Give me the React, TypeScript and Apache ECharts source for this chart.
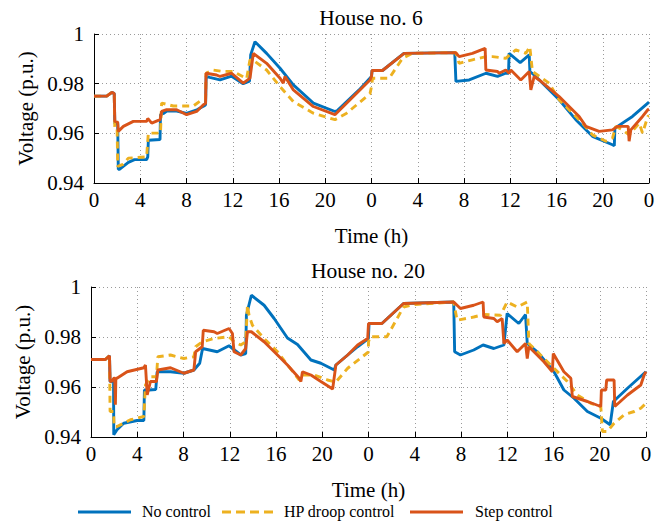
import React, { useEffect, useRef } from "react";
import * as echarts from "echarts";

const FONT = "Liberation Serif";
const FS = 21;
const BLUE = "#0072BD";
const YELLOW = "#EDB120";
const RED = "#D95319";

const seriesNames = ["No control", "HP droop control", "Step control"];
const panelTitles = ["House no. 6", "House no. 20"];

const topNoControl = [
  [0, 0.975], [1.1, 0.975], [1.55, 0.9765], [1.75, 0.976], [1.8, 0.964], [2.05, 0.964], [2.1, 0.9455], [2.2, 0.9455],
  [2.97, 0.9483], [3.5, 0.9494], [4.55, 0.9494], [4.65, 0.9505], [4.7, 0.9572], [5.71, 0.9575], [5.75, 0.9675],
  [6.0, 0.968], [6.3, 0.969], [7.15, 0.969], [8.0, 0.968], [8.9, 0.9695], [9.5, 0.971], [9.65, 0.9715], [9.7, 0.9829],
  [10.0, 0.9825], [10.9, 0.9815], [11.9, 0.983], [12.9, 0.98], [13.45, 0.981], [13.55, 0.9916], [13.92, 0.9969],
  [14.93, 0.9922], [16.09, 0.9862], [17.24, 0.9795], [18.97, 0.9722], [20.84, 0.9688], [21.0, 0.969], [22.93, 0.9775],
  [24.0, 0.9829], [24.05, 0.9853], [24.95, 0.9853], [26.8, 0.9922], [31.2, 0.9925], [31.3, 0.9809], [32.45, 0.9815],
  [33.9, 0.9842], [34.9, 0.9829], [35.6, 0.9842], [35.85, 0.9842], [35.9, 0.9922], [36.86, 0.9885], [37.64, 0.9916],
  [37.7, 0.9849], [38.21, 0.9829], [40.23, 0.9735], [41.67, 0.9655], [43.11, 0.9588], [44.84, 0.9554], [45.0, 0.955],
  [45.05, 0.9621], [46.57, 0.9668], [47.9, 0.9722], [48, 0.9725],
];
const topHpDroop = [
  [0, 0.975], [1.1, 0.975], [1.55, 0.9765], [1.75, 0.976], [1.8, 0.962], [2.0, 0.962], [2.05, 0.9467], [2.5, 0.9475],
  [2.97, 0.95], [4.55, 0.9505], [4.7, 0.9601], [5.75, 0.9601], [5.85, 0.9722], [6.86, 0.971], [8.59, 0.971],
  [9.17, 0.973], [9.65, 0.9735], [9.69, 0.9842], [10.3, 0.9855], [11.0, 0.985], [12.05, 0.9849], [13.2, 0.982],
  [13.49, 0.9896], [13.92, 0.9889], [14.93, 0.9855], [16.09, 0.9788], [17.24, 0.9728], [18.97, 0.9681],
  [20.84, 0.9655], [21.85, 0.9681], [23.87, 0.976], [24.0, 0.9788], [24.09, 0.9822], [25.53, 0.9822],
  [26.68, 0.9902], [27.5, 0.9922], [31.29, 0.9925], [31.58, 0.9882], [32.73, 0.9896], [33.89, 0.9909],
  [34.46, 0.9909], [35.61, 0.9902], [36.48, 0.9936], [37.35, 0.9922], [37.69, 0.9949], [37.92, 0.9849],
  [39.36, 0.9802], [40.23, 0.9735], [41.09, 0.9695], [42.25, 0.9641], [43.11, 0.9594], [44.27, 0.9568],
  [44.84, 0.9581], [45.13, 0.9628], [45.71, 0.9614], [46.28, 0.9594], [47.15, 0.9641], [47.44, 0.9601],
  [47.9, 0.9668], [48, 0.967],
];
const topStep = [
  [0, 0.975], [1.1, 0.975], [1.55, 0.9765], [1.75, 0.976], [1.8, 0.9648], [2.05, 0.9645], [2.1, 0.9608],
  [2.54, 0.9628], [3.4, 0.9648], [4.55, 0.9648], [4.65, 0.966], [4.99, 0.9641], [5.71, 0.9655], [5.85, 0.9688],
  [6.28, 0.9695], [7.15, 0.9695], [8.01, 0.9675], [8.88, 0.9688], [9.46, 0.9715], [9.65, 0.972], [9.69, 0.9842],
  [10.6, 0.9835], [10.9, 0.9829], [11.9, 0.9842], [12.91, 0.9802], [13.49, 0.9822], [13.78, 0.9922],
  [14.93, 0.9882], [16.09, 0.9822], [16.37, 0.9802], [16.52, 0.9829], [17.24, 0.9775], [18.97, 0.9708],
  [20.84, 0.9675], [23.87, 0.9815], [24, 0.9829], [24.05, 0.9853], [24.95, 0.9853], [26.82, 0.9922],
  [31.29, 0.9925], [31.58, 0.9909], [32.73, 0.9922], [33.83, 0.9942], [33.89, 0.9855], [34.9, 0.9849],
  [35.04, 0.9842], [35.61, 0.9855], [35.9, 0.9842], [36.05, 0.9855], [36.91, 0.9815], [37.64, 0.9849],
  [37.78, 0.9775], [38.07, 0.9829], [38.5, 0.9815], [40.23, 0.9748], [41.96, 0.9668], [42.54, 0.9628],
  [43.69, 0.9608], [44.84, 0.9614], [45.27, 0.9628], [46.2, 0.9628], [46.28, 0.9568], [46.43, 0.9614],
  [47.44, 0.9668], [47.9, 0.9695], [48, 0.9698],
];

const bottomNoControl = [
  [0, 0.971], [1.24, 0.971], [1.6, 0.9725], [1.65, 0.9622], [1.95, 0.962], [1.97, 0.9409], [2.25, 0.9429],
  [2.83, 0.9455], [3.99, 0.9466], [4.57, 0.9466], [4.62, 0.9588], [5.0, 0.9588], [5.6, 0.959], [5.72, 0.9661],
  [6.88, 0.9661], [8.03, 0.9655], [8.9, 0.9668], [9.4, 0.9695], [9.65, 0.9754], [10.92, 0.9741], [11.94, 0.9765],
  [12.95, 0.9728], [13.38, 0.9734], [13.44, 0.9887], [13.87, 0.9967], [14.97, 0.9927], [15.84, 0.9874],
  [16.99, 0.9796], [17.86, 0.977], [19.02, 0.9708], [19.88, 0.9695], [21.04, 0.9668], [21.18, 0.9688],
  [22.2, 0.9728], [23.06, 0.9761], [23.99, 0.9794], [24.05, 0.9854], [25.16, 0.9854], [27.03, 0.9934],
  [31.37, 0.994], [31.45, 0.9741], [31.95, 0.9728], [33.1, 0.9748], [33.91, 0.9768], [34.84, 0.9754],
  [35.71, 0.9768], [35.99, 0.9894], [37.0, 0.9854], [37.58, 0.989], [37.73, 0.9774], [38.6, 0.9741],
  [40.04, 0.9661], [40.9, 0.9588], [41.77, 0.9555], [42.93, 0.9502], [44.09, 0.9475], [44.9, 0.9449],
  [45.18, 0.9542], [46.4, 0.9595], [47.99, 0.9661], [48, 0.9661],
];
const bottomHpDroop = [
  [0, 0.971], [1.24, 0.971], [1.6, 0.9725], [1.65, 0.9502], [1.95, 0.9502], [2.0, 0.9442], [2.25, 0.9442],
  [3.41, 0.9469], [4.57, 0.9482], [4.71, 0.9608], [5.14, 0.9641], [5.66, 0.9641], [5.78, 0.9721], [6.88, 0.9728],
  [8.03, 0.9714], [8.9, 0.9721], [9.05, 0.9761], [9.62, 0.9781], [10.64, 0.9794], [11.94, 0.9801], [12.37, 0.9781],
  [12.95, 0.9768], [13.38, 0.9781], [13.53, 0.9927], [13.67, 0.9887], [13.96, 0.9847], [14.97, 0.9794],
  [16.13, 0.9741], [16.99, 0.9688], [18.01, 0.9628], [18.29, 0.9648], [19.31, 0.9648], [20.46, 0.9628],
  [21.18, 0.962], [22.2, 0.9675], [23.99, 0.974], [24.0, 0.9781], [24.14, 0.9801], [25.59, 0.9801],
  [27.03, 0.992], [28, 0.993], [31.37, 0.994], [31.66, 0.9867], [33.1, 0.988], [33.97, 0.989], [35.42, 0.9887],
  [35.99, 0.994], [36.86, 0.992], [37.73, 0.994], [37.87, 0.9774], [38.88, 0.9728], [40.04, 0.9675],
  [41.2, 0.9622], [42.06, 0.9568], [43.22, 0.9535], [44.09, 0.9522], [44.23, 0.9422], [44.66, 0.9422],
  [45.24, 0.9455], [46.11, 0.9489], [46.98, 0.9502], [47.55, 0.9515], [48, 0.9535],
];
const bottomStep = [
  [0, 0.971], [1.24, 0.971], [1.6, 0.9725], [1.65, 0.9622], [1.82, 0.9624], [1.97, 0.9635], [2.05, 0.9635],
  [2.11, 0.9529], [2.15, 0.9635], [2.25, 0.9635], [3.12, 0.9661], [4.57, 0.9677], [4.71, 0.9688], [4.86, 0.9568],
  [5.14, 0.9622], [5.66, 0.9622], [5.78, 0.9668], [6.88, 0.9677], [8.03, 0.9655], [8.9, 0.9668], [9.05, 0.9741],
  [9.62, 0.9761], [9.71, 0.9827], [10.64, 0.9821], [10.92, 0.9814], [11.94, 0.9834], [12.23, 0.9814],
  [12.37, 0.9741], [12.95, 0.9728], [13.38, 0.9754], [13.53, 0.9821], [13.87, 0.9821], [14.97, 0.9781],
  [16.13, 0.9728], [16.99, 0.9688], [18.01, 0.9635], [18.15, 0.9622], [18.29, 0.9661], [19.02, 0.9648],
  [19.88, 0.9622], [20.9, 0.9592], [21.18, 0.9688], [22.2, 0.9728], [23.06, 0.9768], [23.93, 0.9794],
  [24.0, 0.9854], [25.16, 0.9854], [27.03, 0.9934], [31.37, 0.994], [31.95, 0.9914], [33.1, 0.9927],
  [33.91, 0.994], [33.97, 0.988], [34.84, 0.9874], [35.13, 0.9861], [35.56, 0.9874], [35.71, 0.9774],
  [35.99, 0.9788], [36.86, 0.9741], [37.58, 0.9774], [37.73, 0.9714], [37.87, 0.9761], [38.31, 0.9741],
  [39.17, 0.9701], [39.9, 0.9661], [39.98, 0.9734], [40.9, 0.9661], [41.5, 0.9635], [41.63, 0.9562],
  [42.93, 0.9542], [44.09, 0.9522], [44.14, 0.9588], [44.52, 0.9588], [44.6, 0.9628], [45.24, 0.9628],
  [45.3, 0.9522], [46.4, 0.9568], [47.55, 0.9608], [47.84, 0.9648], [48, 0.9661],
];

const grids = [
  { left: 94, top: 34, width: 555, height: 149 },
  { left: 91, top: 287, width: 555, height: 150 },
];

function xAxisFor(gridIndex: number) {
  return {
    type: "value",
    gridIndex,
    min: 0,
    max: 48,
    interval: 4,
    name: "Time (h)",
    nameLocation: "middle",
    nameGap: 42,
    nameTextStyle: { fontFamily: FONT, fontSize: FS, color: "#000" },
    axisLine: { show: true, onZero: false, lineStyle: { color: "#000", width: 1 } },
    axisTick: { show: true, inside: true, length: 5, lineStyle: { color: "#000" } },
    axisLabel: {
      fontFamily: FONT,
      fontSize: FS,
      color: "#000",
      margin: 6,
      formatter: (v: number) => String(Math.round(v) % 24),
    },
    splitLine: { show: true, lineStyle: { color: "#9a9a9a", type: [1, 3], width: 1 } },
  };
}

function yAxisFor(gridIndex: number, gap: number) {
  return {
    type: "value",
    gridIndex,
    min: 0.94,
    max: 1,
    interval: 0.02,
    name: "Voltage (p.u.)",
    nameLocation: "middle",
    nameGap: gap,
    nameRotate: 90,
    nameTextStyle: { fontFamily: FONT, fontSize: FS, color: "#000" },
    axisLine: { show: true, onZero: false, lineStyle: { color: "#000", width: 1 } },
    axisTick: { show: true, inside: true, length: 5, lineStyle: { color: "#000" } },
    axisLabel: {
      fontFamily: FONT,
      fontSize: FS,
      color: "#000",
      margin: 10,
      formatter: (v: number) => (Math.abs(v - 1) < 1e-9 ? "1" : v.toFixed(2)),
    },
    splitLine: { show: true, lineStyle: { color: "#9a9a9a", type: [1, 3], width: 1 } },
  };
}

function lineSeries(name: string, data: number[][], idx: number, color: string, dashed: boolean, z: number) {
  return {
    type: "line",
    name,
    xAxisIndex: idx,
    yAxisIndex: idx,
    data,
    showSymbol: false,
    symbol: "none",
    z,
    lineStyle: { color, width: 2.9, type: dashed ? [7, 5] : "solid" },
    itemStyle: { color },
  };
}

const legendItems = [
  { x1: 78, x2: 131, tx: 142, color: BLUE, dash: null as number[] | null },
  { x1: 222, x2: 273, tx: 284, color: YELLOW, dash: [9, 5] },
  { x1: 410, x2: 463, tx: 475, color: RED, dash: null as number[] | null },
];

export default function App() {
  const ref = useRef<HTMLDivElement>(null);
  useEffect(() => {
    if (!ref.current) return;
    const chart = echarts.init(ref.current, undefined, { renderer: "svg" });
    const legendGraphics: any[] = [];
    legendItems.forEach((it, i) => {
      legendGraphics.push({
        type: "line",
        shape: { x1: it.x1, y1: 512, x2: it.x2, y2: 512 },
        style: { stroke: it.color, lineWidth: 3, lineDash: it.dash || undefined },
      });
      legendGraphics.push({
        type: "text",
        x: it.tx,
        y: 511,
        style: { text: seriesNames[i], align: "left", verticalAlign: "middle", fontFamily: FONT, fontSize: 16, fill: "#000" },
      });
    });
    chart.setOption({
      animation: false,
      backgroundColor: "#fff",
      grid: grids,
      xAxis: [xAxisFor(0), xAxisFor(1)],
      yAxis: [yAxisFor(0, 52), yAxisFor(1, 49)],
      graphic: [
        {
          type: "text",
          x: 371,
          y: 18,
          style: { text: panelTitles[0], align: "center", verticalAlign: "middle", fontFamily: FONT, fontSize: 21.5, fill: "#000" },
        },
        {
          type: "text",
          x: 368,
          y: 271,
          style: { text: panelTitles[1], align: "center", verticalAlign: "middle", fontFamily: FONT, fontSize: 21.5, fill: "#000" },
        },
        ...legendGraphics,
      ],
      series: [
        lineSeries(seriesNames[0], topNoControl, 0, BLUE, false, 2),
        lineSeries(seriesNames[1], topHpDroop, 0, YELLOW, true, 3),
        lineSeries(seriesNames[2], topStep, 0, RED, false, 4),
        lineSeries(seriesNames[0], bottomNoControl, 1, BLUE, false, 2),
        lineSeries(seriesNames[1], bottomHpDroop, 1, YELLOW, true, 3),
        lineSeries(seriesNames[2], bottomStep, 1, RED, false, 4),
      ],
    });
    return () => chart.dispose();
  }, []);
  return (
    <div
      ref={ref}
      style={{ position: "fixed", left: 0, top: 0, width: 664, height: 521, background: "#fff" }}
    />
  );
}
